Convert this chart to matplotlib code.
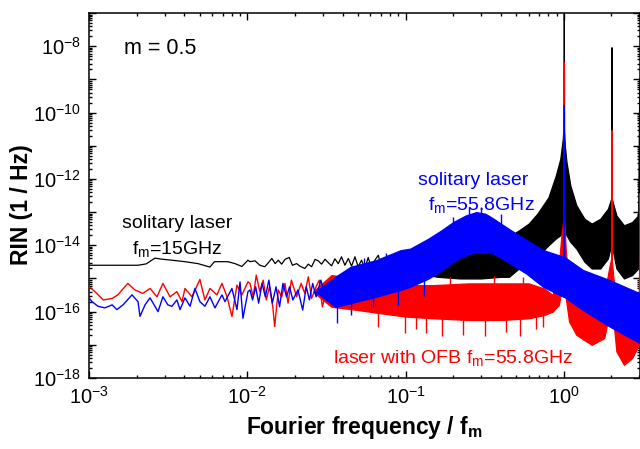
import matplotlib
matplotlib.use("Agg")
import matplotlib.pyplot as plt
from matplotlib.ticker import LogLocator, FuncFormatter, NullFormatter
import numpy as np

plt.rcParams['font.family'] = ['Liberation Sans', 'DejaVu Sans']
plt.rcParams['mathtext.fontset'] = 'custom'
plt.rcParams['mathtext.rm'] = 'Liberation Sans'
plt.rcParams['mathtext.it'] = 'Liberation Sans:italic'
plt.rcParams['mathtext.bf'] = 'Liberation Sans:bold'

# ---------------- data ----------------
# solitary laser fm=15GHz (black): low-frequency trace
black_f = [1.00e-3, 1.4e-3, 2.04e-3, 2.3e-3, 2.61e-3, 2.9e-3, 3.34e-3, 4.04e-3, 4.88e-3,
           5.81e-3, 6.2e-3, 6.53e-3, 7.56e-3, 8.36e-3, 9.25e-3, 1.01e-2,
           0.0104, 0.0112, 0.0120, 0.0129, 0.0136, 0.0143, 0.0150, 0.0157, 0.0165, 0.0173,
           0.0184, 0.0193, 0.0205, 0.0215, 0.0231, 0.0243, 0.0255, 0.0268, 0.0281, 0.0295,
           0.0310, 0.0325, 0.0341, 0.0358, 0.0376, 0.0394, 0.0414, 0.0435, 0.0456, 0.0479,
           0.0502, 0.0527, 0.0553, 0.0581, 0.0610, 0.0640, 0.0673, 0.0706, 0.0741, 0.0778,
           0.0817, 0.0857, 0.0900, 0.0944]
black_v = [2.5e-15, 2.5e-15, 2.5e-15, 2.75e-15, 4.1e-15, 3.8e-15, 3.55e-15, 3.2e-15, 2.8e-15,
           2.2e-15, 3.2e-15, 3.2e-15, 3.2e-15, 2.8e-15, 2.3e-15, 3.55e-15,
           3.2e-15, 3.4e-15, 2.5e-15, 2.25e-15, 3.0e-15, 4.0e-15, 2.8e-15, 3.55e-15, 2.7e-15, 3.75e-15,
           4.3e-15, 2.5e-15, 2.8e-15, 2.35e-15, 2.0e-15, 2.7e-15, 2.25e-15, 3.75e-15, 3.4e-15, 2.7e-15,
           3.8e-15, 3.0e-15, 2.4e-15, 3.9e-15, 2.8e-15, 4.5e-15, 2.5e-15, 4.0e-15, 2.35e-15, 4.5e-15,
           2.25e-15, 3.55e-15, 2.0e-15, 4.3e-15, 1.9e-15, 3.55e-15, 5.0e-15, 2.0e-15, 4.3e-15, 1.8e-15,
           5.0e-15, 2.15e-15, 4.5e-15, 1.9e-15]
# black noisy band (upper / lower envelope)
black_band_f = [0.094, 0.12, 0.16, 0.22, 0.3, 0.4, 0.45, 0.52, 0.6, 0.68, 0.8, 0.89, 0.95, 0.985,
                0.996, 1.0, 1.004, 1.015, 1.04, 1.1, 1.2, 1.35, 1.5, 1.7, 1.9, 1.99, 2.0, 2.01,
                2.15, 2.4, 2.7, 2.95, 3.0, 3.03]
black_band_hi = [5.0e-15, 7.1e-15, 8.9e-15, 1.12e-14, 1.26e-14, 1.4e-14, 1.8e-14, 2.8e-14, 4.5e-14,
                 8.9e-14, 2.8e-13, 1.26e-12, 4.0e-12, 1.6e-11, 4.0e-11, 1.0e-7, 3.0e-11, 1.0e-11,
                 3.2e-12, 6.3e-13, 1.6e-13, 6.3e-14, 4.5e-14, 6.3e-14, 1.26e-13, 2.5e-13, 9.3e-9,
                 2.5e-13, 7.9e-14, 4.0e-14, 5.0e-14, 7.9e-14, 1.1e-9, 7.9e-14]
black_band_lo = [1.8e-15, 1.4e-15, 1.12e-15, 1.0e-15, 1.0e-15, 1.12e-15, 1.12e-15, 2.0e-15, 2.8e-15,
                 4.5e-15, 1.0e-14, 1.6e-14, 2.0e-14, 2.5e-14, 2.0e-14, 2.0e-14, 2.0e-14, 2.5e-14,
                 2.0e-14, 1.26e-14, 7.9e-15, 3.2e-15, 2.0e-15, 2.0e-15, 4.0e-15, 1.0e-14, 1.0e-14,
                 1.0e-14, 2.0e-15, 1.0e-15, 1.26e-15, 2.0e-15, 2.0e-15, 2.0e-15]

# laser with OFB fm=55.8GHz (red): low-frequency trace
red_f = [1.00e-3, 1.09e-3, 1.23e-3, 1.40e-3, 1.52e-3, 1.76e-3, 1.95e-3, 2.19e-3, 2.43e-3, 2.69e-3,
         2.93e-3, 3.25e-3, 3.59e-3, 3.87e-3, 4.04e-3, 4.47e-3, 5.02e-3, 5.40e-3, 5.81e-3, 6.43e-3,
         6.92e-3, 7.45e-3, 8.00e-3, 8.61e-3, 9.25e-3, 1.01e-2,
         0.0104, 0.0109, 0.0114, 0.0120, 0.0126, 0.0132, 0.0138, 0.0145, 0.0149, 0.0157, 0.0165,
         0.0173, 0.0181, 0.0190, 0.0205, 0.0219, 0.0231, 0.0243, 0.0255, 0.0272, 0.0285, 0.0298,
         0.0314, 0.0329, 0.0345]
red_v = [5.7e-16, 4.0e-16, 2.25e-16, 2.5e-16, 3.2e-16, 7.1e-16, 4.5e-16, 3.55e-16, 5.0e-16, 2.8e-16,
         7.1e-16, 2.8e-16, 4.0e-16, 2.0e-16, 5.0e-16, 2.8e-16, 9.3e-16, 2.25e-16, 5.0e-16, 3.2e-16,
         7.1e-16, 2.8e-16, 7.1e-17, 6.3e-16, 3.2e-16, 7.9e-16,
         7.1e-16, 2.8e-16, 1.26e-15, 4.0e-16, 8.9e-16, 2.25e-16, 5.6e-16, 1.4e-16, 3.55e-17, 4.5e-16,
         2.8e-16, 7.1e-16, 1.8e-16, 8.9e-16, 2.8e-16, 7.1e-16, 3.55e-16, 1.12e-15, 2.5e-16, 5.6e-16,
         8.9e-16, 1.4e-16, 3.55e-16, 7.1e-16, 2.25e-16]
red_band_f = [0.026, 0.034, 0.05, 0.07, 0.1, 0.15, 0.25, 0.4, 0.6, 0.75, 0.85, 0.93, 0.97, 0.995, 1.0,
              1.005, 1.03, 1.08, 1.2, 1.5, 1.8, 1.95, 1.995, 2.0, 2.005, 2.05, 2.15, 2.4, 2.7,
              2.98, 3.0, 3.03]
red_band_hi = [4.0e-16, 1.26e-15, 1.0e-15, 7.9e-16, 6.3e-16, 6.3e-16, 7.1e-16, 7.1e-16, 7.1e-16, 5.0e-16,
               3.2e-16, 2.5e-15, 2.5e-14, 6.3e-14, 3.3e-9, 6.3e-14, 6.3e-15, 6.3e-16, 5.0e-16,
               4.0e-16, 3.2e-16, 2.5e-15, 4.0e-15, 2.95e-11, 4.0e-15, 1.26e-15, 1.6e-16, 6.3e-17,
               5.0e-17, 6.3e-17, 3.7e-13, 6.3e-17]
red_band_lo = [4.0e-16, 1.4e-16, 1.12e-16, 8.9e-17, 7.1e-17, 6.3e-17, 5.6e-17, 5.6e-17, 6.3e-17, 7.9e-17,
               1.0e-16, 1.6e-16, 5.0e-16, 1.0e-15, 1.0e-15, 1.0e-15, 2.5e-16, 5.0e-17, 2.0e-17,
               1.0e-17, 1.6e-17, 1.0e-16, 1.6e-16, 1.6e-16, 1.6e-16, 6.3e-17, 6.3e-18, 2.5e-18,
               4.0e-18, 1.0e-17, 1.0e-17, 1.0e-17]
# isolated red noise spikes: frequency, tip, base
red_spk_f = [0.067, 0.099, 0.117, 0.135, 0.17, 0.23, 0.32, 0.43, 0.53, 0.67, 0.74, 1.33, 1.6, 2.37,
             0.08, 0.19, 0.36, 0.55]
red_spk_tip = [3.55e-17, 2.2e-17, 3.0e-17, 2.2e-17, 1.8e-17, 2.0e-17, 1.8e-17, 2.5e-17, 1.8e-17, 3.0e-17,
               3.5e-17, 1.4e-17, 1.1e-17, 2.8e-18, 1.3e-15, 1.1e-15, 1.2e-15, 1.1e-15]
red_spk_base = [2e-16, 2e-16, 2e-16, 2e-16, 2e-16, 2e-16, 2e-16, 2e-16, 2e-16, 2e-16,
                2e-16, 1e-16, 1e-16, 2e-17, 3e-16, 3e-16, 3e-16, 3e-16]

# solitary laser fm=55.8GHz (blue): low-frequency trace
blue_f = [1.00e-3, 1.045e-3, 1.14e-3, 1.26e-3, 1.40e-3, 1.50e-3, 1.64e-3, 1.87e-3, 2.04e-3, 2.10e-3,
          2.26e-3, 2.43e-3, 2.61e-3, 2.73e-3, 2.93e-3, 3.15e-3, 3.34e-3, 3.59e-3, 3.76e-3, 4.04e-3,
          4.35e-3, 4.67e-3, 5.02e-3, 5.40e-3, 5.81e-3, 6.25e-3, 6.92e-3, 7.23e-3, 8.00e-3, 8.61e-3,
          9.00e-3, 9.39e-3, 1.01e-2,
          0.0104, 0.0108, 0.0113, 0.0118, 0.0124, 0.0130, 0.0137, 0.0144, 0.0152, 0.0160, 0.0168,
          0.0177, 0.0185, 0.0194, 0.0209, 0.0224, 0.0236, 0.0247, 0.0259, 0.0272, 0.0292, 0.0306,
          0.0321, 0.0337, 0.0353]
blue_v = [2.6e-16, 2.0e-16, 1.45e-16, 1.3e-16, 1.6e-16, 1.15e-16, 1.6e-16, 3.2e-16, 2.0e-16, 7.2e-17,
          1.6e-16, 2.6e-16, 1.45e-16, 1.0e-16, 2.8e-16, 1.6e-16, 1.45e-16, 2.25e-16, 1.15e-16, 2.6e-16,
          1.45e-16, 5.0e-16, 2.0e-16, 1.45e-16, 2.8e-16, 1.3e-16, 3.2e-16, 2.0e-16, 5.0e-16, 1.15e-16,
          7.9e-16, 6.3e-17, 4.0e-16,
          4.5e-16, 2.25e-16, 5.6e-16, 1.8e-16, 7.1e-16, 2.8e-16, 8.9e-16, 1.8e-16, 5.6e-16, 1.4e-16,
          7.1e-16, 2.8e-16, 5.6e-16, 2.25e-16, 4.5e-16, 1.12e-16, 5.6e-16, 2.25e-16, 7.1e-16, 2.8e-16,
          8.9e-16, 3.55e-16, 7.1e-16, 2.8e-16, 5.6e-16]
blue_band_f = [0.027, 0.036, 0.045, 0.065, 0.093, 0.107, 0.14, 0.17, 0.2, 0.24, 0.28, 0.32, 0.36,
               0.46, 0.58, 0.74, 0.995, 1.0, 1.005, 1.32, 1.95, 3.03]
blue_band_hi = [4.0e-16, 1.12e-15, 2.25e-15, 3.55e-15, 7.1e-15, 7.9e-15, 1.6e-14, 2.9e-14, 5.0e-14,
                7.9e-14, 1.0e-13, 8.9e-14, 6.3e-14, 2.9e-14, 1.45e-14, 7.2e-15, 4.5e-15, 1.66e-10,
                4.5e-15, 1.8e-15, 8.9e-16, 3.55e-16]
blue_band_lo = [4.0e-16, 1.4e-16, 1.8e-16, 2.8e-16, 4.5e-16, 5.6e-16, 1.0e-15, 1.8e-15, 3.2e-15,
                5.0e-15, 6.3e-15, 6.3e-15, 5.6e-15, 2.8e-15, 1.4e-15, 5.6e-16, 2.8e-16, 2.8e-16,
                2.8e-16, 1.12e-16, 3.55e-17, 1.12e-17]
# isolated blue noise spikes: frequency, tip, base
blue_spk_f = [0.037, 0.045, 0.062, 0.09, 0.13, 0.055, 0.075, 0.2, 0.25, 0.3, 0.4]
blue_spk_tip = [4.5e-17, 8.0e-17, 1.4e-16, 1.6e-16, 3.0e-16, 4.0e-15, 6.0e-15, 7.0e-14, 1.4e-13, 1.4e-13, 9.0e-14]
blue_spk_base = [4e-16, 5e-16, 7e-16, 1e-15, 2e-15, 1e-15, 2e-15, 2e-14, 3e-14, 3e-14, 2e-14]

x_ticks = [1e-3, 1e-2, 1e-1, 1e0]
y_labelled = [1e-18, 1e-16, 1e-14, 1e-12, 1e-10, 1e-8]

# ---------------- figure ----------------
fig = plt.figure(figsize=(6.4, 4.49), dpi=100)
ax = fig.add_axes([89/640, 1-378/449, 551/640, 365/449])

BLACK, RED, BLUE = '#000000', '#ff0000', '#0000ff'

ax.plot(black_f, black_v, color=BLACK, lw=0.9, zorder=2)
ax.fill_between(black_band_f, black_band_lo, black_band_hi, color=BLACK, lw=0.9, zorder=2)
ax.plot(red_f, red_v, color=RED, lw=1.0, zorder=3)
ax.fill_between(red_band_f, red_band_lo, red_band_hi, color=RED, lw=0.9, zorder=3)
ax.vlines(red_spk_f, red_spk_tip, red_spk_base, color=RED, lw=1.0, zorder=3)
ax.plot(blue_f, blue_v, color=BLUE, lw=1.0, zorder=4)
ax.fill_between(blue_band_f, blue_band_lo, blue_band_hi, color=BLUE, lw=0.9, zorder=4)
ax.vlines(blue_spk_f, blue_spk_tip, blue_spk_base, color=BLUE, lw=1.0, zorder=4)

ax.set_xscale('log')
ax.set_yscale('log')
ax.set_xlim(1e-3, 3.03)
ax.set_ylim(1e-18, 1e-7)

def fmt(v, pos):
    e = int(round(np.log10(v)))
    return r'$\mathregular{10^{%d}}$' % e

ax.xaxis.set_major_locator(LogLocator(base=10, numticks=20))
ax.xaxis.set_minor_locator(LogLocator(base=10, subs=np.arange(2, 10), numticks=50))
ax.xaxis.set_major_formatter(FuncFormatter(lambda v, p: fmt(v, p) if any(abs(v/t-1) < 1e-6 for t in x_ticks) else ''))
ax.xaxis.set_minor_formatter(NullFormatter())
ax.yaxis.set_major_locator(LogLocator(base=10, numticks=30))
ax.yaxis.set_minor_locator(LogLocator(base=10, subs=np.arange(2, 10), numticks=100))
ax.yaxis.set_major_formatter(FuncFormatter(lambda v, p: fmt(v, p) if any(abs(v/t-1) < 1e-6 for t in y_labelled) else ''))
ax.yaxis.set_minor_formatter(NullFormatter())

ax.tick_params(which='both', direction='in', top=True, right=True, width=1.0)
ax.tick_params(which='major', length=5, labelsize=14.5, pad=6)
ax.tick_params(which='minor', length=2.5)
for s in ax.spines.values():
    s.set_linewidth(1.1)

ax.set_xlabel(r'Fourier frequency / f$_\mathbf{m}$', fontsize=16.5, fontweight='bold')
ax.set_ylabel('RIN (1 / Hz)', fontsize=16.5, fontweight='bold')
ax.xaxis.set_label_coords(0.5, -0.099)
ax.yaxis.set_label_coords(-0.102, 0.475)

ax.text(0.0635, 0.888, 'm = 0.5', transform=ax.transAxes, fontsize=15.5, color=BLACK, va='baseline')
ax.text(0.0599, 0.412, 'solitary laser', transform=ax.transAxes, fontsize=14, color=BLACK, va='baseline')
ax.text(0.0775, 0.340, r'f$_\mathregular{m}$=15GHz', transform=ax.transAxes, fontsize=14, color=BLACK, va='baseline')
ax.text(0.597, 0.529, 'solitary laser', transform=ax.transAxes, fontsize=14, color=BLUE, va='baseline')
ax.text(0.615, 0.460, r'f$_\mathregular{m}$=55.8GHz', transform=ax.transAxes, fontsize=14, color=BLUE, va='baseline')
ax.text(0.443, 0.041, r'laser with OFB f$_\mathregular{m}$=55.8GHz', transform=ax.transAxes, fontsize=14,
        color=RED, va='baseline')

fig.savefig('out.png', dpi=100)
